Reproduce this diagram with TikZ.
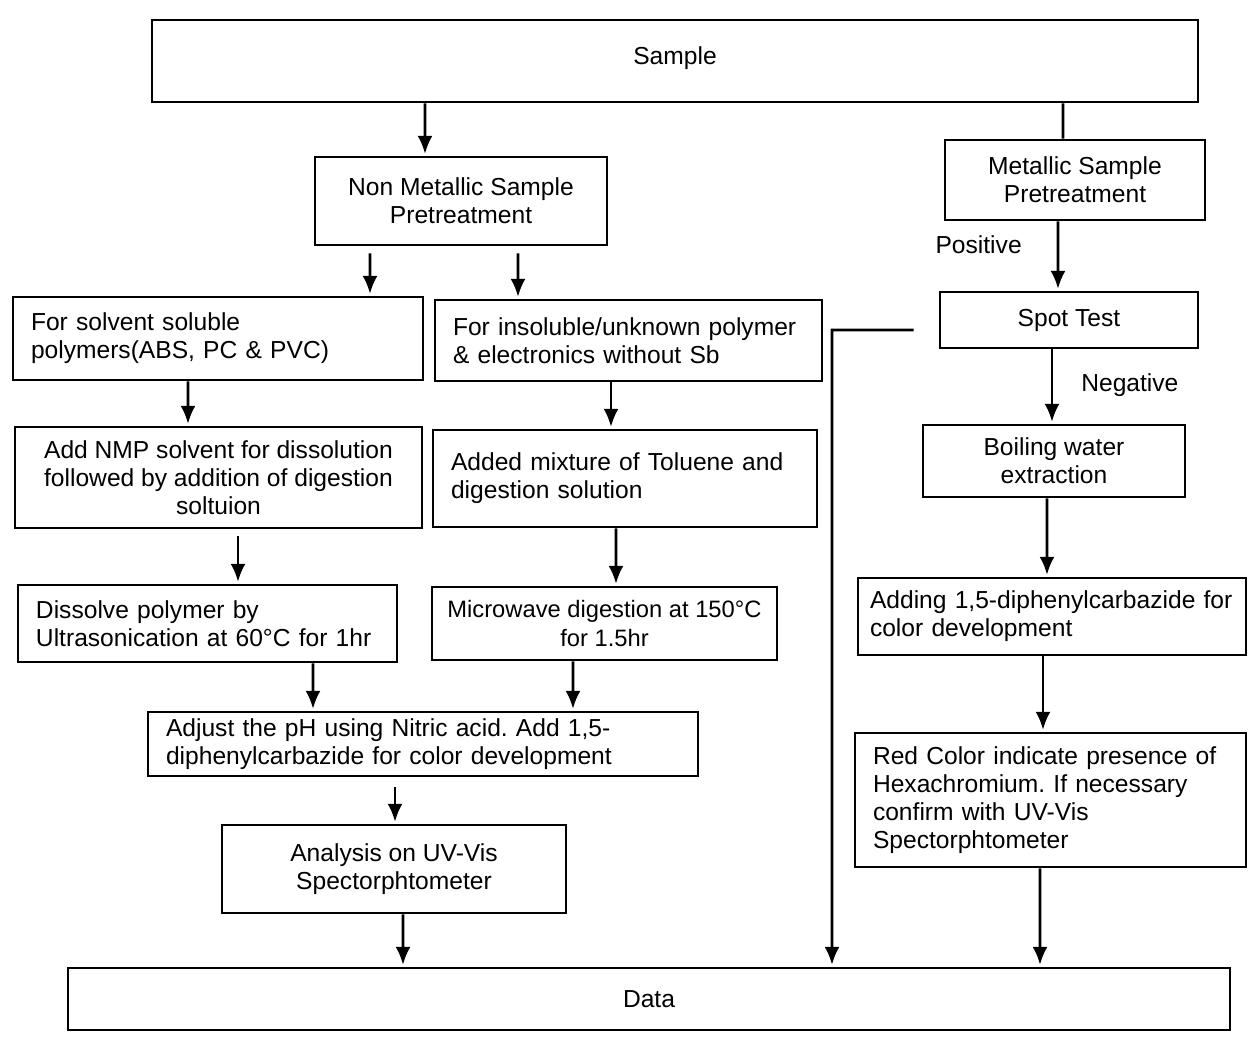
\documentclass[tikz,border=0pt]{standalone}
\usepackage{fontspec}
\setmainfont{Liberation Sans}
\usetikzlibrary{arrows.meta}
\frenchspacing

\begin{document}
\begin{tikzpicture}
  \tikzset{block/.style = {draw, line width=1.6pt, inner xsep=0.36cm, inner ysep=0pt, font=\fontsize{14}{16}\selectfont}}
  \tikzset{lblock/.style = {block, align=left}}
  \tikzset{cblock/.style = {block, align=center}}
  \tikzset{edge/.style = {line width=1.5pt, -{Latex[length=0.36cm,width=0.3cm]}, shorten >=1pt}}
  \tikzset{link/.style = {line width=1.5pt}}
  \tikzset{tag/.style = {font=\fontsize{14}{16}\selectfont, inner sep=0pt}}

  \useasboundingbox (0,0) rectangle (25,-20.88);

  \node[cblock, minimum width=20.92cm, minimum height=1.64cm] (sample) at (13.5,-1.22) {\raisebox{0.22cm}{Sample}};

  % non metallic branch
  \node[cblock, minimum width=5.84cm, minimum height=1.76cm] (nonmet) at (9.22,-4.02) {Non Metallic Sample\\Pretreatment};
  \node[lblock, text width=7.48cm, minimum height=1.66cm] (solv) at (4.36,-6.77) {For solvent soluble\\polymers(ABS, PC \& PVC)};
  \node[lblock, text width=7.02cm, minimum height=1.62cm] (insol) at (12.57,-6.81) {For insoluble/unknown polymer\\\& electronics without Sb};
  \node[cblock, minimum width=8.14cm, minimum height=2.02cm] (nmp) at (4.37,-9.55) {Add NMP solvent for dissolution\\followed by addition of digestion\\soltuion};
  \node[lblock, text width=6.96cm, minimum height=1.94cm] (mix) at (12.5,-9.57) {Added mixture of Toluene and\\digestion solution\\[0.3cm]};
  \node[lblock, text width=6.86cm, minimum height=1.54cm] (diss) at (4.15,-12.47) {Dissolve polymer by\\Ultrasonication at 60°C for 1hr};
  \node[cblock, inner xsep=0.3cm, font=\fontsize{13.5}{16}\selectfont, minimum width=6.9cm, minimum height=1.46cm] (micro) at (12.09,-12.47) {Microwave digestion at 150°C\\for 1.5hr};
  \node[lblock, text width=10.28cm, minimum height=1.28cm] (adjust) at (8.46,-14.88) {Adjust the pH using Nitric acid. Add 1,5-\\diphenylcarbazide for color development};
  \node[cblock, minimum width=6.88cm, minimum height=1.76cm] (uv) at (7.88,-17.38) {Analysis on UV-Vis\\Spectorphtometer};

  % metallic branch
  \node[cblock, minimum width=5.2cm, minimum height=1.6cm] (met) at (21.5,-3.6) {Metallic Sample\\Pretreatment};
  \node[cblock, minimum width=5.16cm, minimum height=1.12cm] (spot) at (21.38,-6.4) {Spot Test};
  \node[cblock, minimum width=5.24cm, minimum height=1.44cm] (boil) at (21.08,-9.22) {Boiling water\\extraction};
  \node[lblock, text width=7.28cm, inner xsep=0.24cm, minimum height=1.54cm] (adding) at (21.04,-12.33) {Adding 1,5-diphenylcarbazide for\\color development};
  \node[lblock, text width=7.1cm, minimum height=2.68cm] (red) at (21.01,-16.0) {Red Color indicate presence of\\Hexachromium. If necessary\\confirm with UV-Vis\\Spectorphtometer};

  \node[cblock, minimum width=23.24cm, minimum height=1.24cm] (data) at (12.98,-19.98) {Data};

  \coordinate (turn) at (16.64,-6.6);

  \draw[edge] ([xshift=-5cm]sample.south) -- ([xshift=-0.72cm]nonmet.north);
  \draw[link] ([xshift=7.76cm]sample.south) -- ([xshift=-0.24cm]met.north);
  \draw[edge, shorten <=0.14cm] ([xshift=-1.82cm]nonmet.south) -- ([xshift=3.04cm]solv.north);
  \draw[edge, shorten <=0.14cm] ([xshift=1.14cm]nonmet.south) -- ([xshift=-2.21cm]insol.north);
  \draw[edge] ([xshift=-0.6cm]solv.south) -- ([xshift=-0.61cm]nmp.north);
  \draw[edge] ([xshift=-0.35cm]insol.south) -- ([xshift=-0.28cm]mix.north);
  \draw[edge, shorten <=0.14cm] ([xshift=0.39cm]nmp.south) -- ([xshift=0.61cm]diss.north);
  \draw[edge] ([xshift=-0.18cm]mix.south) -- ([xshift=0.23cm]micro.north);
  \draw[edge] ([xshift=2.11cm]diss.south) -- ([xshift=-2.2cm]adjust.north);
  \draw[edge] ([xshift=-0.63cm]micro.south) -- ([xshift=3.0cm]adjust.north);
  \draw[edge, shorten <=0.2cm] ([xshift=-0.56cm]adjust.south) -- ([xshift=0.02cm]uv.north);
  \draw[edge] ([xshift=0.18cm]uv.south) -- ([xshift=-4.92cm]data.north);

  \draw[edge] ([xshift=-0.34cm]met.south) -- node[tag, pos=0.34, left=0.7cm] (pos) {Positive} ([xshift=-0.22cm]spot.north);
  \draw[edge] ([xshift=-0.34cm]spot.south) -- node[tag, pos=0.48, right=0.56cm] (neg) {Negative} ([xshift=-0.04cm]boil.north);
  \draw[edge] ([xshift=-0.14cm]boil.south) -- ([xshift=-0.1cm]adding.north);
  \draw[edge] ([xshift=-0.18cm]adding.south) -- ([xshift=-0.15cm]red.north);
  \draw[edge] ([xshift=-0.21cm]red.south) -- ([xshift=7.82cm]data.north);
  \draw[edge, shorten <=0.5cm] ([yshift=-0.2cm]spot.west) -- (turn) -- (turn |- data.north);
\end{tikzpicture}
\end{document}
